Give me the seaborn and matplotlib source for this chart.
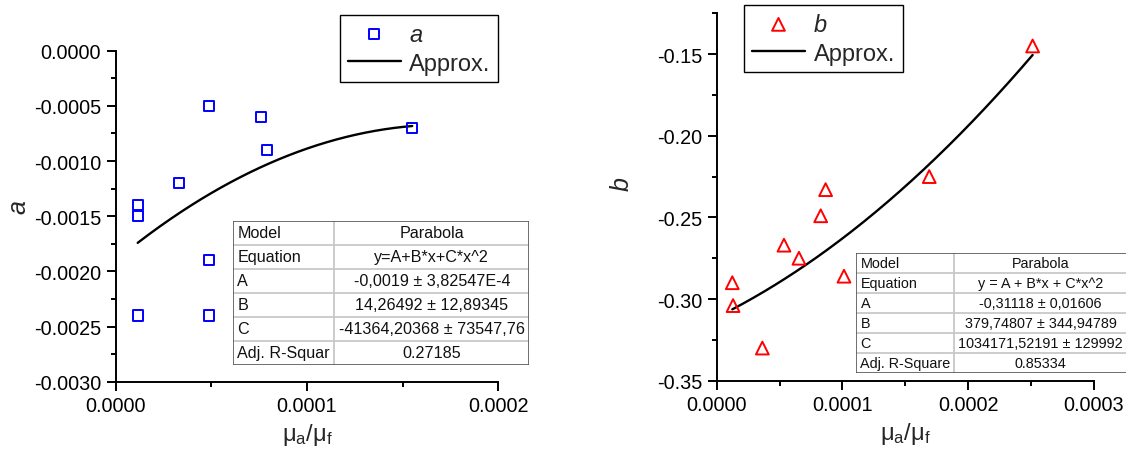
import numpy as np
import matplotlib
matplotlib.use("Agg")
import matplotlib.pyplot as plt
import seaborn as sns
from matplotlib.ticker import FormatStrFormatter, MultipleLocator
from matplotlib.patches import Rectangle
from matplotlib.lines import Line2D

# ---------------- data ----------------
a_x = [1.15e-5, 1.15e-5, 1.15e-5, 3.33e-5, 4.9e-5, 4.9e-5, 4.9e-5, 7.58e-5, 7.9e-5, 1.55e-4]
a_y = [-0.0014, -0.0015, -0.0024, -0.0012, -0.0005, -0.0019, -0.0024, -0.0006, -0.0009, -0.0007]
b_x = [1.24e-5, 1.30e-5, 3.63e-5, 5.35e-5, 6.54e-5, 8.27e-5, 8.66e-5, 1.012e-4, 1.69e-4, 2.512e-4]
b_y = [-0.290, -0.304, -0.330, -0.267, -0.275, -0.249, -0.233, -0.286, -0.225, -0.145]

# parabola coefficients (A, B, C) from the fit tables
a_coef = [-0.0019, 14.26492, -41364.20368]
b_coef = [-0.31118, 379.74807, 1034171.52191]

a_table = [("Model", "Parabola"), ("Equation", "y=A+B*x+C*x^2"),
           ("A", "-0,0019 ± 3,82547E-4"), ("B", "14,26492 ± 12,89345"),
           ("C", "-41364,20368 ± 73547,76"), ("Adj. R-Squar", "0.27185")]
b_table = [("Model", "Parabola"), ("Equation", "y = A + B*x + C*x^2"),
           ("A", "-0,31118 ± 0,01606"), ("B", "379,74807 ± 344,94789"),
           ("C", "1034171,52191 ± 129992"), ("Adj. R-Square", "0.85334")]

a_xticks = [0.0, 0.0001, 0.0002]
a_yticks = [0.0, -0.0005, -0.0010, -0.0015, -0.0020, -0.0025, -0.0030]
b_xticks = [0.0, 0.0001, 0.0002, 0.0003]
b_yticks = [-0.15, -0.20, -0.25, -0.30, -0.35]

# ---------------- style ----------------
sns.set_theme(style="ticks")
plt.rcParams["font.family"] = ["Liberation Sans", "DejaVu Sans"]
plt.rcParams["mathtext.fontset"] = "custom"
plt.rcParams["mathtext.rm"] = "Liberation Sans"
plt.rcParams["axes.unicode_minus"] = False

W, H = 1126, 452
fig = plt.figure(figsize=(W / 100, H / 100), dpi=100)


def fbox(x0, y0, x1, y1):
    return [x0 / W, 1 - y1 / H, (x1 - x0) / W, (y1 - y0) / H]


def fit_curve(xs, coef):
    xf = np.linspace(min(xs), max(xs), 200)
    return xf, coef[0] + coef[1] * xf + coef[2] * xf ** 2


def style_axis(ax, xticks, yticks, xlim, ylim, xfmt, yfmt):
    ax.set_xlim(*xlim)
    ax.set_ylim(*ylim)
    ax.set_xticks(xticks)
    ax.set_yticks(yticks)
    ax.xaxis.set_major_formatter(FormatStrFormatter(xfmt))
    ax.yaxis.set_major_formatter(FormatStrFormatter(yfmt))
    ax.xaxis.set_minor_locator(MultipleLocator((xticks[1] - xticks[0]) / 2))
    ax.yaxis.set_minor_locator(MultipleLocator(abs(yticks[1] - yticks[0]) / 2))
    ax.tick_params(which="major", direction="out", length=6.5, width=1.4,
                   labelsize=14.3, pad=4, color="black", labelcolor="black")
    ax.tick_params(which="minor", direction="out", length=3.4, width=1.4, color="black")
    sns.despine(ax=ax)
    for s in ("left", "bottom"):
        ax.spines[s].set_linewidth(1.4)
        ax.spines[s].set_color("black")
    ax.grid(False)


def draw_panel(ax, xs, ys, coef, marker, color, size, name, legend_px):
    sns.scatterplot(x=xs, y=ys, ax=ax, marker=marker, s=size, zorder=3, legend=False)
    coll = ax.collections[-1]
    coll.set_facecolor("none")
    coll.set_edgecolor(color)
    coll.set_linewidth(1.4)
    xf, yf = fit_curve(xs, coef)
    sns.lineplot(x=xf, y=yf, ax=ax, color="black", linewidth=1.7, sort=False,
                 estimator=None, legend=False, zorder=2)
    ln = ax.lines[-1]
    lx, ly = legend_px
    leg = ax.legend(handles=[coll, ln], labels=[name, "Approx."], loc="upper right",
                    bbox_to_anchor=(lx / W, 1 - ly / H), bbox_transform=fig.transFigure,
                    fontsize=17, frameon=True, fancybox=False, framealpha=1,
                    edgecolor="black", borderaxespad=0, handlelength=2.25,
                    handletextpad=0.37, borderpad=0.32, labelspacing=0.3,
                    scatterpoints=1)
    leg.get_frame().set_linewidth(1.0)
    leg.get_texts()[0].set_style("italic")


def draw_table(rows, x0, y0, x1, y1, xdiv, fs):
    tax = fig.add_axes(fbox(x0, y0, x1, y1))
    tax.set_xlim(x0, x1)
    tax.set_ylim(y1, y0)
    tax.axis("off")
    n = len(rows)
    rh = (y1 - y0) / n
    tax.add_patch(Rectangle((x0, y0), x1 - x0, y1 - y0, facecolor="white",
                            edgecolor="none", zorder=1))
    for i in range(1, n):
        yy = y0 + i * rh
        tax.add_line(Line2D([x0, x1], [yy, yy], color="#c8c8c8", lw=1.3, zorder=2))
    tax.add_line(Line2D([xdiv, xdiv], [y0, y1], color="#c8c8c8", lw=1.3, zorder=2))
    tax.add_patch(Rectangle((x0, y0), x1 - x0, y1 - y0, facecolor="none",
                            edgecolor="#555555", lw=1.2, zorder=3))
    for i, (k, v) in enumerate(rows):
        yc = y0 + (i + 0.5) * rh
        tax.text(x0 + 4.5, yc, k, ha="left", va="center", fontsize=fs, color="#111111")
        tax.text((xdiv + x1) / 2, yc, v, ha="center", va="center", fontsize=fs, color="#111111")


# ---------------- left panel ----------------
ax1 = fig.add_axes(fbox(115.7, 51.7, 498.3, 382.7))
draw_panel(ax1, a_x, a_y, a_coef, "s", "#0000FF", 52, "a", (498.3, 16))
style_axis(ax1, a_xticks, a_yticks, (0, 0.0002), (-0.0030, 0.0), "%.4f", "%.4f")
ax1.set_xlabel(r"$\mathregular{μ_a/μ_f}$", fontsize=17, labelpad=4)
ax1.set_ylabel("a", fontsize=18, style="italic", va="center")
ax1.yaxis.set_label_coords(-0.2535, 0.531)

# ---------------- right panel ----------------
ax2 = fig.add_axes(fbox(716.7, 14.3, 1094, 381.7))
draw_panel(ax2, b_x, b_y, b_coef, "^", "#FF0000", 85, "b", (902.7, 6))
style_axis(ax2, b_xticks, b_yticks, (0, 0.0003), (-0.35, -0.125), "%.4f", "%.2f")
ax2.set_xlabel(r"$\mathregular{μ_a/μ_f}$", fontsize=17, labelpad=4)
ax2.set_ylabel("b", fontsize=18, style="italic", va="center")
ax2.yaxis.set_label_coords(-0.2518, 0.538)

# ---------------- fit tables ----------------
draw_table(a_table, 232.7, 221.7, 529.3, 366.0, 334.3, 11.6)
draw_table(b_table, 856.0, 254.3, 1127.0, 374.3, 954.0, 10.4)

fig.savefig("out.png", dpi=100)
